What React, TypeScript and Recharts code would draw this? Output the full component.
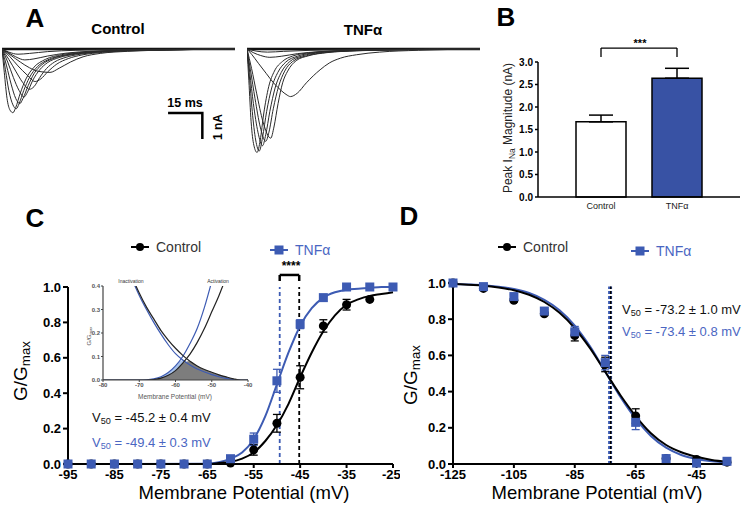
import React from "react";
import {
  Area,
  Bar,
  BarChart,
  Cell,
  ComposedChart,
  ErrorBar,
  Line,
  LineChart,
  ReferenceLine,
  XAxis,
  YAxis,
} from "recharts";

const FONT = "'Liberation Sans', Arial, Helvetica, sans-serif";
const BLUE = "#3d5bb3";
const BLUE_TXT = "#4a66c2";
const BAR_BLUE = "#3852a4";

// A: current traces, [time ms, current nA]
const ctrlTraces: number[][][] = [
  [[0, 0], [1, -0.9], [2.2, -1.9], [3.5, -2.35], [4.8, -2.45], [6, -2.25], [8, -1.7], [10.5, -1.15], [14, -0.7], [19, -0.4], [26, -0.22], [36, -0.12], [50, -0.06], [70, -0.03], [102, 0]],
  [[0, 0], [1.5, -0.8], [3, -1.6], [4.8, -2.15], [6.2, -2.3], [7.5, -2.1], [9.5, -1.6], [12, -1.1], [15.5, -0.68], [20, -0.42], [27, -0.24], [37, -0.13], [52, -0.06], [72, -0.03], [102, 0]],
  [[0, 0], [2, -0.65], [4, -1.35], [6, -1.9], [7.8, -2.1], [9.2, -1.9], [11.5, -1.4], [14, -0.95], [17.5, -0.6], [22, -0.38], [29, -0.22], [39, -0.12], [54, -0.06], [74, -0.03], [102, 0]],
  [[0, 0], [2.5, -0.5], [5, -1.1], [7.5, -1.6], [9.6, -1.85], [11.2, -1.65], [13.5, -1.2], [16.5, -0.8], [20, -0.52], [25, -0.33], [32, -0.2], [42, -0.11], [56, -0.05], [76, -0.02], [102, 0]],
  [[0, 0], [3, -0.4], [6, -0.85], [9, -1.28], [12, -1.55], [14, -1.45], [16.5, -1.1], [19.5, -0.75], [23, -0.5], [28, -0.32], [35, -0.19], [45, -0.1], [60, -0.05], [80, -0.02], [102, 0]],
  [[0, 0], [3.5, -0.3], [7, -0.65], [11, -1.0], [14.5, -1.25], [17, -1.15], [20, -0.88], [24, -0.58], [29, -0.37], [35, -0.23], [44, -0.13], [56, -0.07], [75, -0.03], [102, 0]],
  [[0, 0], [4, -0.25], [8, -0.5], [12, -0.72], [16, -0.86], [21, -0.9], [25, -0.74], [30, -0.5], [35.5, -0.3], [43, -0.17], [55, -0.09], [72, -0.04], [102, 0]],
  [[0, 0], [3, -0.15], [6, -0.3], [10, -0.42], [14, -0.38], [20, -0.27], [28, -0.16], [40, -0.08], [58, -0.04], [80, -0.015], [102, 0]],
  [[0, 0], [3, -0.12], [7, -0.2], [12, -0.17], [20, -0.1], [32, -0.05], [50, -0.02], [102, 0]],
];

const tnfTraces: number[][][] = [
  [[0, 0], [0.8, -1.2], [1.8, -2.8], [3, -3.7], [4.4, -3.98], [5.8, -3.5], [7.3, -2.5], [9.5, -1.45], [12, -0.85], [15.5, -0.48], [20, -0.27], [28, -0.14], [40, -0.07], [60, -0.03], [102, 0]],
  [[0, 0], [1, -1.0], [2.3, -2.4], [3.8, -3.5], [5.4, -3.92], [6.8, -3.4], [8.6, -2.4], [10.8, -1.5], [13.5, -0.9], [17, -0.5], [22, -0.28], [30, -0.14], [42, -0.07], [62, -0.03], [102, 0]],
  [[0, 0], [1.2, -0.9], [2.8, -2.1], [4.8, -3.2], [6.8, -3.72], [8.2, -3.3], [10, -2.4], [12.3, -1.5], [15, -0.9], [18.5, -0.5], [24, -0.27], [32, -0.14], [44, -0.07], [64, -0.03], [102, 0]],
  [[0, 0], [1.5, -0.8], [3.5, -1.9], [5.8, -3.0], [8.2, -3.55], [9.6, -3.2], [11.5, -2.3], [13.8, -1.45], [16.5, -0.85], [20, -0.48], [26, -0.26], [34, -0.14], [46, -0.07], [66, -0.03], [102, 0]],
  [[0, 0], [2, -0.75], [4.2, -1.7], [7, -2.8], [10.4, -3.43], [11.8, -3.0], [13.6, -2.1], [15.6, -1.3], [17.8, -0.85], [21.5, -0.45], [27, -0.26], [35, -0.14], [48, -0.07], [68, -0.03], [102, 0]],
  [[0, 0], [2, -0.2], [5, -0.55], [8.5, -0.95], [11.6, -1.3], [15, -1.6], [17.5, -1.77], [19, -1.83], [22, -1.7], [26, -1.3], [32, -0.8], [36, -0.54], [41, -0.35], [48, -0.22], [58, -0.12], [75, -0.05], [102, 0]],
  [[0, 0], [3, -0.15], [6, -0.25], [10, -0.32], [15, -0.28], [22, -0.18], [32, -0.1], [46, -0.05], [66, -0.02], [102, 0]],
  [[0, 0], [4, -0.08], [9, -0.12], [16, -0.09], [28, -0.05], [50, -0.02], [102, 0]],
];

const scaleBar = [[72.7, -2.46], [87.7, -2.46], [87.7, -3.46]];

// B: peak sodium current
const groups = ["Control", "TNFα"];
const peakNa = [1.67, 2.64];
const peakNaSem = [0.15, 0.22];

// C: activation
const actV = [-95, -90, -85, -80, -75, -70, -65, -60, -55, -50, -45, -40, -35, -30, -25];
const actCtl = [0, 0, 0, 0, 0, 0, 0, 0.005, 0.08, 0.23, 0.49, 0.78, 0.9, 0.93, null];
const actCtlErr = [0, 0, 0, 0, 0, 0, 0, 0, 0.03, 0.05, 0.065, 0.035, 0.03, 0, 0];
const actTnf = [0, 0, 0, 0, 0, 0, 0, 0.03, 0.14, 0.47, 0.79, 0.94, 1.0, 1.0, 1.0];
const actTnfErr = [0, 0, 0, 0, 0, 0, 0, 0.01, 0.035, 0.065, 0.025, 0, 0, 0, 0];
const actFitV = [-95, -65, -62.5, -60, -57.5, -55, -52.5, -50, -47.5, -45, -42.5, -40, -37.5, -35, -32.5, -30, -27.5, -25];
const actFitCtl = [0, 0, 0.005, 0.012, 0.03, 0.065, 0.13, 0.22, 0.34, 0.49, 0.63, 0.75, 0.84, 0.9, 0.93, 0.95, 0.96, 0.97];
const actFitTnf = [0, 0.002, 0.01, 0.03, 0.065, 0.14, 0.27, 0.45, 0.63, 0.78, 0.88, 0.94, 0.97, 0.985, 0.99, 0.995, 1, 1];

// C inset: window currents
const insetV = [-80, -78, -76, -74, -72, -70, -68, -66, -64, -62, -60, -58, -56, -54, -52, -50, -48, -46, -44, -42, -40];
const insetActCtl = [0, 0, 0, 0, 0, 0, 0, 0.002, 0.008, 0.02, 0.04, 0.072, 0.11, 0.16, 0.22, 0.29, 0.36, 0.44, 0.53, 0.62, 0.7];
const insetActTnf = [0, 0, 0, 0, 0, 0, 0.001, 0.005, 0.014, 0.032, 0.06, 0.1, 0.155, 0.22, 0.31, 0.42, 0.54, 0.66, 0.78, 0.88, 0.95];
const insetInaCtl = [0.78, 0.7, 0.62, 0.53, 0.44, 0.37, 0.31, 0.26, 0.21, 0.17, 0.135, 0.105, 0.08, 0.06, 0.045, 0.033, 0.022, 0.013, 0.005, 0, 0];
const insetInaTnf = [0.76, 0.68, 0.6, 0.52, 0.43, 0.36, 0.3, 0.245, 0.195, 0.15, 0.112, 0.085, 0.064, 0.047, 0.034, 0.023, 0.014, 0.007, 0.002, 0, 0];

// D: steady-state inactivation
const inaV = [-125, -115, -105, -95, -85, -75, -65, -55, -45, -35];
const inaCtl = [1.0, 0.97, 0.905, 0.83, 0.71, 0.55, 0.265, 0.03, 0.025, 0.01];
const inaCtlErr = [0, 0.005, 0.01, 0.01, 0.03, 0.04, 0.04, 0.005, 0.005, 0];
const inaTnf = [1.0, 0.98, 0.925, 0.845, 0.73, 0.56, 0.23, 0.03, 0.005, 0.015];
const inaTnfErr = [0, 0.005, 0.01, 0.01, 0.03, 0.04, 0.04, 0.005, 0.005, 0];
const inaFitV = [-125, -120, -115, -110, -105, -100, -95, -90, -85, -80, -75, -70, -65, -60, -55, -50, -45, -40, -35];
const inaFitCtl = [0.995, 0.99, 0.985, 0.975, 0.96, 0.935, 0.895, 0.835, 0.75, 0.64, 0.51, 0.38, 0.265, 0.17, 0.105, 0.065, 0.04, 0.022, 0.012];
const inaFitTnf = [0.995, 0.992, 0.988, 0.98, 0.967, 0.945, 0.907, 0.85, 0.765, 0.65, 0.51, 0.37, 0.25, 0.155, 0.09, 0.05, 0.028, 0.015, 0.008];

const toRows = (xs: number[], ys: (number | null)[], errs?: number[]) =>
  xs
    .map((v, i) => ({ v, y: ys[i], err: errs ? errs[i] : 0 }))
    .filter((d) => d.y !== null);

const tick13 = { fill: "#000", fontSize: 13, fontWeight: 700, fontFamily: FONT };
const axisStyle = { stroke: "#000", strokeWidth: 2 };

const Square = (p: any) =>
  p.cx == null ? (
    <g key={`sq-${p.index}`} />
  ) : (
    <rect key={`sq-${p.index}`} x={p.cx - 4.5} y={p.cy - 4.5} width={9} height={9} fill={BLUE} />
  );

const Txt = ({ x, y, size = 13, weight = 400, color = "#000", rotate = 0, left = false, children }: any) => (
  <div
    style={{
      position: "absolute",
      left: x,
      top: y,
      transform: `translate(${left ? "0" : "-50%"},-50%) rotate(${rotate}deg)`,
      fontSize: size,
      fontWeight: weight,
      color,
      whiteSpace: "nowrap",
      lineHeight: 1,
      fontFamily: FONT,
    }}
  >
    {children}
  </div>
);

const Sub = ({ children }: any) => (
  <span style={{ fontSize: "0.7em", verticalAlign: "-0.3em", lineHeight: 0 }}>{children}</span>
);

const LegendItem = ({ x, y, square, label }: any) => (
  <div style={{ position: "absolute", left: x, top: y, transform: "translateY(-50%)", display: "flex", alignItems: "center" }}>
    <svg width={20} height={12}>
      <line x1={1} y1={6} x2={19} y2={6} stroke={square ? BLUE : "#000"} strokeWidth={2} />
      {square ? <rect x={5.5} y={1.5} width={9} height={9} fill={BLUE} /> : <circle cx={10} cy={6} r={4} fill="#000" />}
    </svg>
    <span style={{ marginLeft: 6, fontSize: 14, color: square ? BLUE_TXT : "#333", fontFamily: FONT }}>{label}</span>
  </div>
);

function TraceSet({ traces, left }: { traces: number[][][]; left: number }) {
  return (
    <div style={{ position: "absolute", left, top: 36 }}>
      <LineChart width={233} height={130} margin={{ top: 0, right: 0, bottom: 0, left: 0 }}>
        <XAxis type="number" dataKey="t" domain={[0, 102]} hide />
        <YAxis type="number" domain={[-4.5, 0.5]} hide />
        <Line
          data={[{ t: 0, I: 0 }, { t: 102, I: 0 }]}
          dataKey="I"
          stroke="#111"
          strokeWidth={2.5}
          dot={false}
          isAnimationActive={false}
        />
        {traces.map((tr, i) => (
          <Line
            key={i}
            data={tr.map(([t, I]) => ({ t, I }))}
            dataKey="I"
            type="monotone"
            stroke="#2a2a2a"
            strokeWidth={1}
            dot={false}
            isAnimationActive={false}
          />
        ))}
        {left < 100 && (
          <Line
            data={scaleBar.map(([t, I]) => ({ t, I }))}
            dataKey="I"
            type="linear"
            stroke="#000"
            strokeWidth={2.5}
            dot={false}
            isAnimationActive={false}
          />
        )}
      </LineChart>
    </div>
  );
}

export default function App() {
  const barRows = groups.map((g, i) => ({ g, val: peakNa[i], sem: [0, peakNaSem[i]] }));
  const actCtlRows = toRows(actV, actCtl, actCtlErr);
  const actTnfRows = toRows(actV, actTnf, actTnfErr);
  const actFitCtlRows = toRows(actFitV, actFitCtl);
  const actFitTnfRows = toRows(actFitV, actFitTnf);
  const insetRows = insetV.map((v, i) => ({
    v,
    actC: insetActCtl[i],
    actT: insetActTnf[i],
    inaC: insetInaCtl[i],
    inaT: insetInaTnf[i],
    winC: Math.min(insetActCtl[i], insetInaCtl[i]),
    winT: Math.min(insetActTnf[i], insetInaTnf[i]),
  }));
  const inaCtlRows = toRows(inaV, inaCtl, inaCtlErr);
  const inaTnfRows = toRows(inaV, inaTnf, inaTnfErr);
  const inaFitCtlRows = toRows(inaFitV, inaFitCtl);
  const inaFitTnfRows = toRows(inaFitV, inaFitTnf);

  return (
    <div style={{ position: "relative", width: 747, height: 509, background: "#fff", overflow: "hidden", fontFamily: FONT }}>
      <style>{"body{margin:0;background:#fff}"}</style>

      {/* Panel A */}
      <Txt x={35} y={18} size={26} weight={700}>A</Txt>
      <Txt x={118} y={28} size={15} weight={700}>Control</Txt>
      <Txt x={363} y={29} size={15} weight={700}>TNFα</Txt>
      <TraceSet traces={ctrlTraces} left={2} />
      <TraceSet traces={tnfTraces} left={247} />
      <Txt x={185} y={103} size={12.5} weight={700}>15 ms</Txt>
      <Txt x={218} y={127} size={12} weight={700} rotate={-90}>1 nA</Txt>

      {/* Panel B */}
      <Txt x={506} y={17} size={26} weight={700}>B</Txt>
      <div style={{ position: "absolute", left: 480, top: 30 }}>
        <BarChart width={267} height={190} data={barRows} margin={{ top: 32, right: 7, bottom: 3, left: 0 }}>
          <XAxis
            dataKey="g"
            padding={{ left: 25, right: 25 }}
            tickLine={false}
            tickSize={0}
            tickMargin={6}
            height={20}
            axisLine={{ stroke: "#000", strokeWidth: 1.5 }}
            tick={{ fontSize: 9, fill: "#222", fontFamily: FONT }}
          />
          <YAxis
            type="number"
            domain={[0, 3]}
            ticks={[0, 0.5, 1, 1.5, 2, 2.5, 3]}
            tickFormatter={(v: number) => v.toFixed(1)}
            width={58}
            tickSize={3}
            tickMargin={2}
            axisLine={{ stroke: "#000", strokeWidth: 1.5 }}
            tickLine={{ stroke: "#000", strokeWidth: 1.5 }}
            tick={{ fontSize: 10, fontWeight: 700, fill: "#000", fontFamily: FONT }}
          />
          <Bar dataKey="val" barSize={50} stroke="#000" strokeWidth={1.5} isAnimationActive={false}>
            {barRows.map((r, i) => (
              <Cell key={r.g} fill={i === 0 ? "#fff" : BAR_BLUE} />
            ))}
            <ErrorBar dataKey="sem" width={12} stroke="#000" strokeWidth={1.5} direction="y" />
          </Bar>
          <ReferenceLine ifOverflow="visible" segment={[{ x: "Control", y: 3.11 }, { x: "Control", y: 3.31 }]} stroke="#000" strokeWidth={1.3} />
          <ReferenceLine ifOverflow="visible" segment={[{ x: "Control", y: 3.31 }, { x: "TNFα", y: 3.31 }]} stroke="#000" strokeWidth={1.3} />
          <ReferenceLine ifOverflow="visible" segment={[{ x: "TNFα", y: 3.31 }, { x: "TNFα", y: 3.11 }]} stroke="#000" strokeWidth={1.3} />
        </BarChart>
      </div>
      <Txt x={640} y={43} size={11} weight={700}>***</Txt>
      <Txt x={508} y={128} size={12} rotate={-90} color="#222">
        Peak I<Sub>Na</Sub> Magnitude (nA)
      </Txt>

      {/* Panel C */}
      <Txt x={35} y={218} size={26} weight={700}>C</Txt>
      <LegendItem x={130} y={247} label="Control" />
      <LegendItem x={269} y={250} square label="TNFα" />
      <div style={{ position: "absolute", left: 0, top: 230 }}>
        <ComposedChart width={400} height={279} margin={{ top: 57, right: 7, bottom: 20, left: 0 }}>
          <XAxis
            type="number"
            dataKey="v"
            domain={[-95, -25]}
            ticks={[-95, -85, -75, -65, -55, -45, -35, -25]}
            height={25}
            tickSize={4}
            tickMargin={2}
            axisLine={axisStyle}
            tickLine={axisStyle}
            tick={tick13}
          />
          <YAxis
            type="number"
            domain={[0, 1]}
            ticks={[0, 0.2, 0.4, 0.6, 0.8, 1]}
            tickFormatter={(v: number) => v.toFixed(1)}
            width={68}
            tickSize={5}
            tickMargin={2}
            axisLine={axisStyle}
            tickLine={axisStyle}
            tick={tick13}
          />
          <ReferenceLine segment={[{ x: -49.4, y: 0 }, { x: -49.4, y: 1 }]} stroke={BLUE} strokeDasharray="4 3" strokeWidth={1.8} />
          <ReferenceLine segment={[{ x: -45.2, y: 0 }, { x: -45.2, y: 1 }]} stroke="#000" strokeDasharray="4 3" strokeWidth={1.8} />
          <ReferenceLine ifOverflow="visible" segment={[{ x: -49.4, y: 1.034 }, { x: -49.4, y: 1.068 }]} stroke="#000" strokeWidth={2.5} />
          <ReferenceLine ifOverflow="visible" segment={[{ x: -49.4, y: 1.068 }, { x: -45.2, y: 1.068 }]} stroke="#000" strokeWidth={2.5} />
          <ReferenceLine ifOverflow="visible" segment={[{ x: -45.2, y: 1.068 }, { x: -45.2, y: 1.034 }]} stroke="#000" strokeWidth={2.5} />
          <Line data={actFitTnfRows} dataKey="y" type="monotone" stroke={BLUE} strokeWidth={2} dot={false} isAnimationActive={false} />
          <Line data={actFitCtlRows} dataKey="y" type="monotone" stroke="#000" strokeWidth={2} dot={false} isAnimationActive={false} />
          <Line data={actCtlRows} dataKey="y" stroke="none" dot={{ r: 4.5, fill: "#000", stroke: "none" }} isAnimationActive={false}>
            <ErrorBar dataKey="err" width={4} stroke="#000" strokeWidth={1.3} direction="y" />
          </Line>
          <Line data={actTnfRows} dataKey="y" stroke="none" dot={Square} isAnimationActive={false}>
            <ErrorBar dataKey="err" width={4} stroke={BLUE} strokeWidth={1.3} direction="y" />
          </Line>
        </ComposedChart>
      </div>
      <Txt x={291} y={266} size={12} weight={700}>****</Txt>
      <Txt x={20} y={371} size={19} rotate={-90}>
        G/G<Sub>max</Sub>
      </Txt>
      <Txt x={244} y={493} size={18.5}>Membrane Potential (mV)</Txt>
      <Txt x={92} y={417} size={13} left color="#111">
        V<Sub>50</Sub> = -45.2 ± 0.4 mV
      </Txt>
      <Txt x={92} y={442} size={13} left color={BLUE_TXT}>
        V<Sub>50</Sub> = -49.4 ± 0.3 mV
      </Txt>

      {/* Panel C inset */}
      <div style={{ position: "absolute", left: 85, top: 270 }}>
        <ComposedChart width={175} height={122} data={insetRows} margin={{ top: 16, right: 12, bottom: 0, left: 0 }}>
          <XAxis
            type="number"
            dataKey="v"
            domain={[-80, -40]}
            ticks={[-80, -70, -60, -50, -40]}
            height={12}
            tickSize={2}
            tickMargin={1}
            axisLine={{ stroke: "#444", strokeWidth: 1.2 }}
            tickLine={{ stroke: "#444" }}
            tick={{ fontSize: 6, fontWeight: 700, fill: "#555", fontFamily: FONT }}
          />
          <YAxis
            type="number"
            domain={[0, 0.4]}
            allowDataOverflow
            ticks={[0, 0.1, 0.2, 0.3, 0.4]}
            tickFormatter={(v: number) => v.toFixed(1)}
            width={18}
            tickSize={2}
            tickMargin={1}
            axisLine={{ stroke: "#444", strokeWidth: 1.2 }}
            tickLine={{ stroke: "#444" }}
            tick={{ fontSize: 6, fontWeight: 700, fill: "#555", fontFamily: FONT }}
          />
          <Area dataKey="winT" type="monotone" fill="#a8c2ea" fillOpacity={1} stroke="none" isAnimationActive={false} />
          <Area dataKey="winC" type="monotone" fill="#7d7d7d" fillOpacity={1} stroke="none" isAnimationActive={false} />
          <Line dataKey="inaT" type="monotone" stroke={BLUE} strokeWidth={1.2} dot={false} isAnimationActive={false} />
          <Line dataKey="actT" type="monotone" stroke={BLUE} strokeWidth={1.2} dot={false} isAnimationActive={false} />
          <Line dataKey="inaC" type="monotone" stroke="#222" strokeWidth={1.2} dot={false} isAnimationActive={false} />
          <Line dataKey="actC" type="monotone" stroke="#222" strokeWidth={1.2} dot={false} isAnimationActive={false} />
        </ComposedChart>
      </div>
      <Txt x={131} y={281} size={5} color="#333">Inactivation</Txt>
      <Txt x={218} y={281} size={5} color="#333">Activation</Txt>
      <Txt x={89} y={336} size={6} rotate={-90} color="#555">
        G/G<Sub>max</Sub>
      </Txt>
      <Txt x={175} y={397} size={6.5} color="#555">Membrane Potential (mV)</Txt>

      {/* Panel D */}
      <Txt x={409} y={216} size={26} weight={700}>D</Txt>
      <LegendItem x={497} y={247} label="Control" />
      <LegendItem x={630} y={251} square label="TNFα" />
      <div style={{ position: "absolute", left: 380, top: 230 }}>
        <ComposedChart width={367} height={279} margin={{ top: 53, right: 20, bottom: 20, left: 0 }}>
          <XAxis
            type="number"
            dataKey="v"
            domain={[-125, -35]}
            ticks={[-125, -105, -85, -65, -45]}
            height={25}
            tickSize={4}
            tickMargin={2}
            axisLine={axisStyle}
            tickLine={axisStyle}
            tick={tick13}
          />
          <YAxis
            type="number"
            domain={[0, 1]}
            ticks={[0, 0.2, 0.4, 0.6, 0.8, 1]}
            tickFormatter={(v: number) => v.toFixed(1)}
            width={73}
            tickSize={5}
            tickMargin={2}
            axisLine={axisStyle}
            tickLine={axisStyle}
            tick={tick13}
          />
          <ReferenceLine segment={[{ x: -73.4, y: 0 }, { x: -73.4, y: 0.98 }]} stroke={BLUE} strokeDasharray="3 2" strokeWidth={4} />
          <ReferenceLine segment={[{ x: -73.2, y: 0 }, { x: -73.2, y: 0.98 }]} stroke="#000" strokeDasharray="3 2" strokeWidth={1.5} />
          <Line data={inaFitTnfRows} dataKey="y" type="monotone" stroke={BLUE} strokeWidth={2} dot={false} isAnimationActive={false} />
          <Line data={inaFitCtlRows} dataKey="y" type="monotone" stroke="#000" strokeWidth={2} dot={false} isAnimationActive={false} />
          <Line data={inaCtlRows} dataKey="y" stroke="none" dot={{ r: 4.5, fill: "#000", stroke: "none" }} isAnimationActive={false}>
            <ErrorBar dataKey="err" width={4} stroke="#000" strokeWidth={1.3} direction="y" />
          </Line>
          <Line data={inaTnfRows} dataKey="y" stroke="none" dot={Square} isAnimationActive={false}>
            <ErrorBar dataKey="err" width={4} stroke={BLUE} strokeWidth={1.3} direction="y" />
          </Line>
        </ComposedChart>
      </div>
      <Txt x={410} y={375} size={19} rotate={-90}>
        G/G<Sub>max</Sub>
      </Txt>
      <Txt x={597} y={493} size={18.5}>Membrane Potential (mV)</Txt>
      <Txt x={622} y={309} size={13} left color="#111">
        V<Sub>50</Sub> = -73.2 ± 1.0 mV
      </Txt>
      <Txt x={622} y={331} size={13} left color={BLUE_TXT}>
        V<Sub>50</Sub> = -73.4 ± 0.8 mV
      </Txt>
    </div>
  );
}
